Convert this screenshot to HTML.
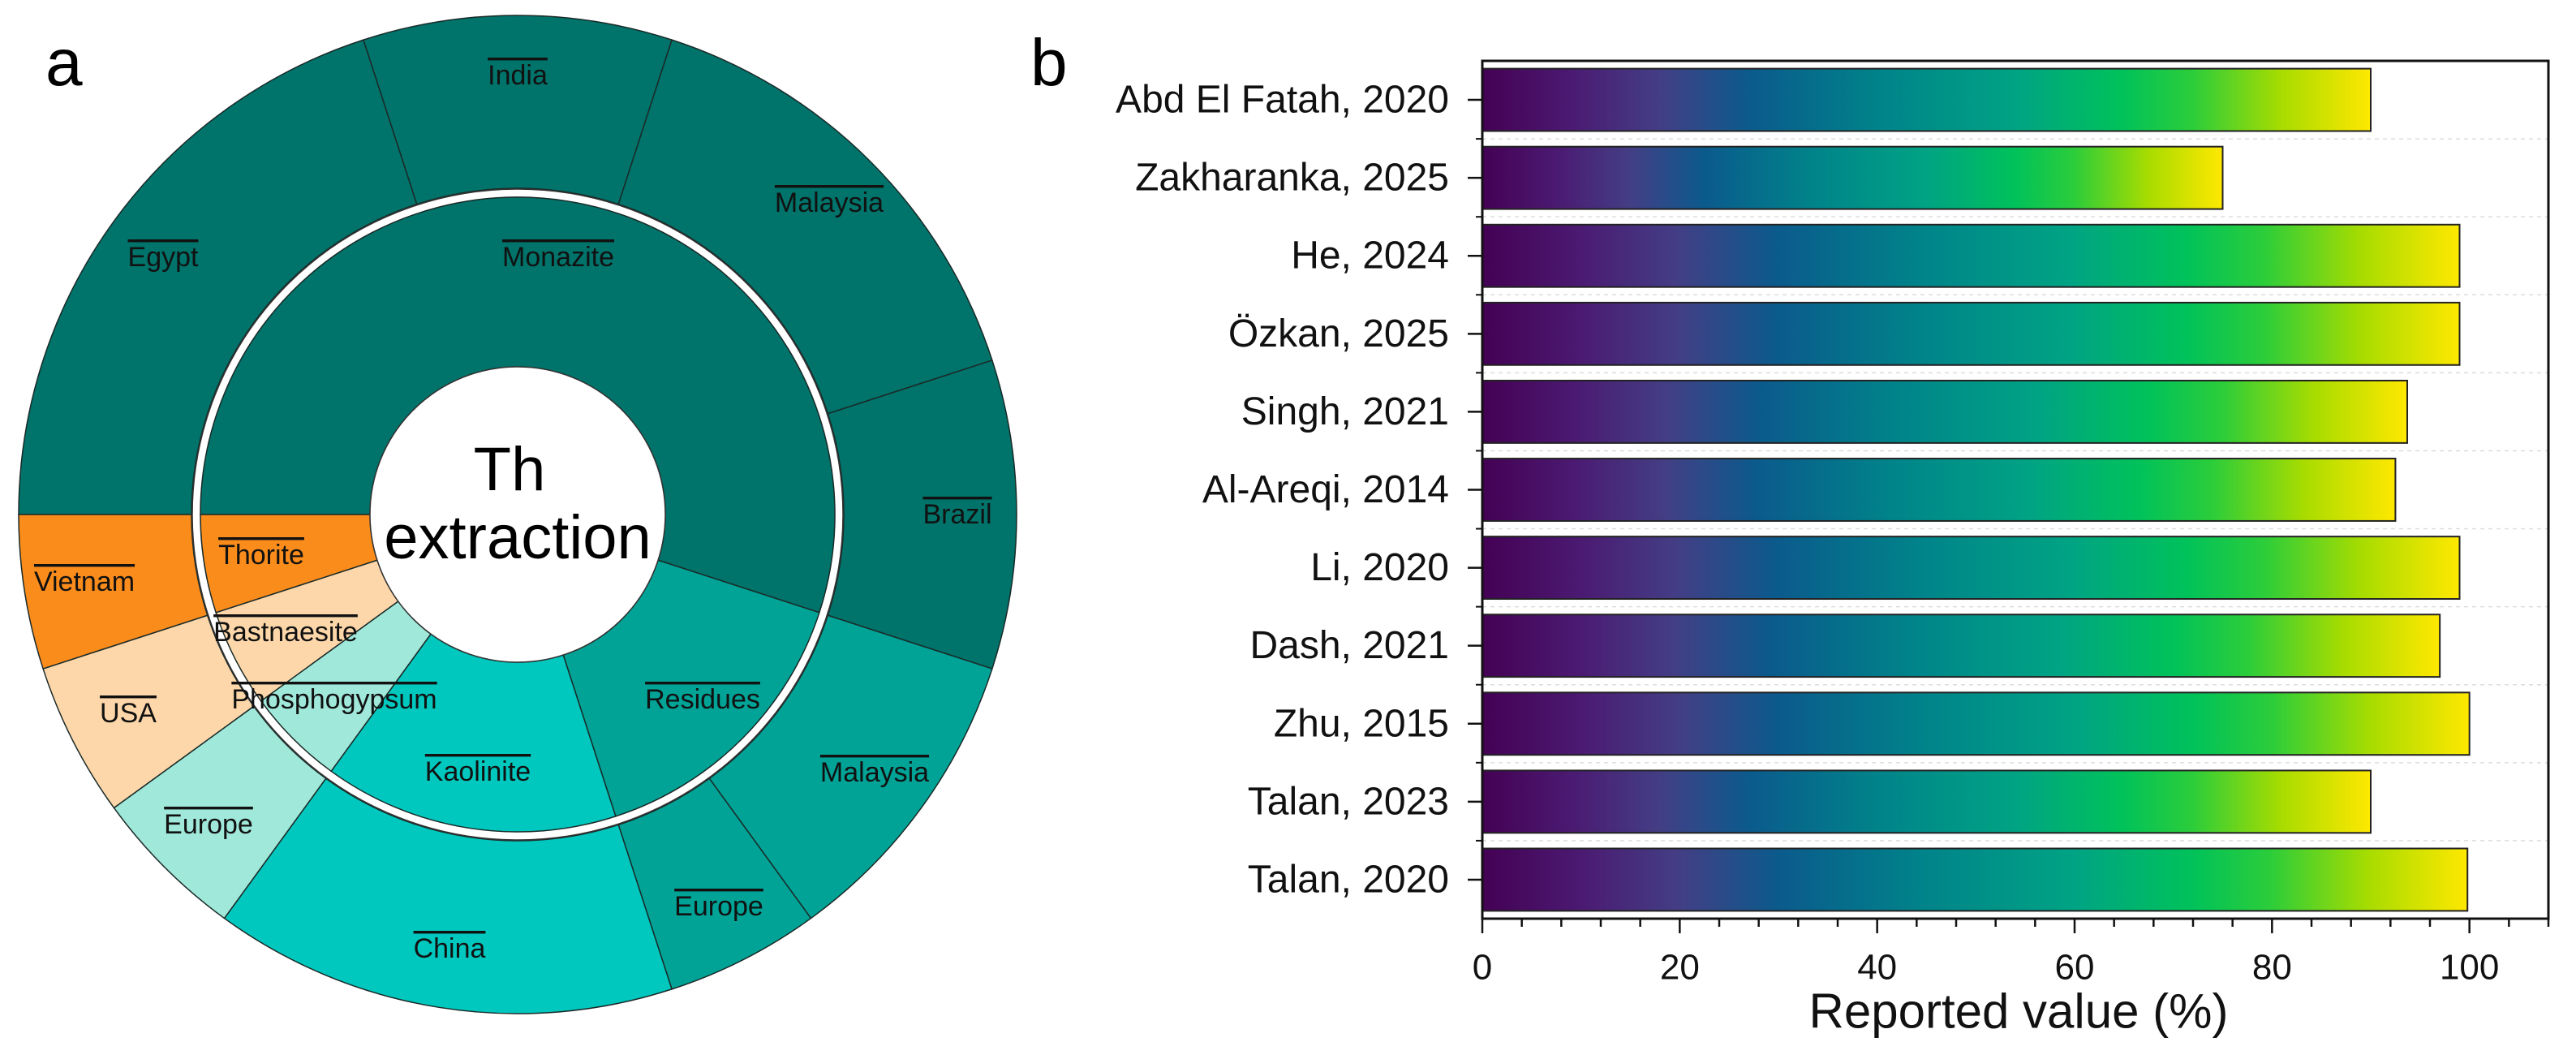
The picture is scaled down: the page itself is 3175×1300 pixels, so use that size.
<!DOCTYPE html>
<html><head><meta charset="utf-8"><style>
html,body{margin:0;padding:0;background:#fff;}
svg{display:block;font-family:"Liberation Sans",Arial,sans-serif;}
.pl{font-size:34px;text-anchor:middle;dominant-baseline:central;text-decoration:overline;fill:#111;}
</style></head><body>
<svg id="s" width="3175" height="1300" viewBox="0 0 3175 1300" xmlns="http://www.w3.org/2000/svg">
<defs>
<linearGradient id="vir" x1="0" x2="1" y1="0" y2="0">
<stop offset="0" stop-color="#440154"/><stop offset="0.1" stop-color="#4b1a72"/><stop offset="0.2" stop-color="#433e85"/>
<stop offset="0.3" stop-color="#0b5a8c"/><stop offset="0.45" stop-color="#00848a"/><stop offset="0.6" stop-color="#00a384"/>
<stop offset="0.72" stop-color="#00c25a"/><stop offset="0.8" stop-color="#2ccd3a"/><stop offset="0.9" stop-color="#a8dc00"/>
<stop offset="1" stop-color="#ffe800"/>
</linearGradient>
</defs>
<g id="pie"></g>
<text x="56" y="105" font-size="82">a</text>
<g id="bar"></g>
<text x="1270" y="105" font-size="82">b</text>
</svg>
<script>
// ---- Sunburst data ----
const innerLabels = ["Monazite","Residues","Kaolinite","Phosphogypsum","Bastnaesite","Thorite"];
const innerSpans = [198,54,54,18,18,18];
const innerColors = ["#00736A","#00A396","#00C8BE","#A0E8DA","#FDD7A9","#FA8C1C"];
const outerLabels = ["Egypt","India","Malaysia","Brazil","Malaysia","Europe","China","Europe","USA","Vietnam"];
const outerSpans = [72,36,54,36,36,18,54,18,18,18];
const outerParent = [0,0,0,0,1,1,2,3,4,5];
const innerLabelPos = [[688,317],[866,862],[589,951],[412,862],[352,779],[322,684]];
const outerLabelPos = [[201,317],[638,93],[1022,250],[1180,634],[1078,952],[886,1117],[554,1169],[257,1016],[158,879],[104,717]];

// ---- Bar data ----
const categories = ["Abd El Fatah, 2020","Zakharanka, 2025","He, 2024","Özkan, 2025","Singh, 2021","Al-Areqi, 2014","Li, 2020","Dash, 2021","Zhu, 2015","Talan, 2023","Talan, 2020"];
const values = [90,75,99,99,93.7,92.5,99,97,100,90,99.8];
const xTicks = [0,20,40,60,80,100];

const NS="http://www.w3.org/2000/svg";
function mk(tag,attrs,parent){const e=document.createElementNS(NS,tag);for(const k in attrs)e.setAttribute(k,attrs[k]);parent.appendChild(e);return e;}

// sunburst
const pie=document.getElementById('pie');
const cx=638, cy=634;
function pt(r,a){const t=a*Math.PI/180;return [cx+r*Math.cos(t), cy-r*Math.sin(t)];}
function sector(r0,r1,a0,a1){
  const p1=pt(r1,a0),p2=pt(r1,a1),p3=pt(r0,a1),p4=pt(r0,a0);
  const lg=(a0-a1)>180?1:0;
  return `M${p1[0]},${p1[1]} A${r1},${r1} 0 ${lg} 1 ${p2[0]},${p2[1]} L${p3[0]},${p3[1]} A${r0},${r0} 0 ${lg} 0 ${p4[0]},${p4[1]} Z`;
}
let a=180;
outerSpans.forEach((s,i)=>{
  const p=mk('path',{d:sector(402,615,a,a-s),fill:innerColors[outerParent[i]],stroke:'#1a2a28','stroke-width':1.5},pie);
  
  
  a-=s;
});
mk('circle',{cx:cx,cy:cy,r:401,fill:'#fff',stroke:'#333','stroke-width':1.5},pie);
a=180;
innerSpans.forEach((s,i)=>{
  const p=mk('path',{d:sector(182,391,a,a-s),fill:innerColors[i],stroke:'#1a2a28','stroke-width':1.5},pie);
  
  
  a-=s;
});
mk('circle',{cx:cx,cy:cy,r:182,fill:'#fff',stroke:'#333','stroke-width':1.5},pie);
outerLabels.forEach((l,i)=>{const t=mk('text',{x:outerLabelPos[i][0],y:outerLabelPos[i][1],class:'pl'},pie);t.textContent=l;
  
  });
innerLabels.forEach((l,i)=>{const t=mk('text',{x:innerLabelPos[i][0],y:innerLabelPos[i][1],class:'pl'},pie);t.textContent=l;
  
  });
const c1=mk('text',{x:628,y:604,'font-size':76,'text-anchor':'middle'},pie);c1.textContent='Th';


const c2=mk('text',{x:638,y:688,'font-size':76,'text-anchor':'middle'},pie);c2.textContent='extraction';



// bar chart
const bar=document.getElementById('bar');
const L=1827,R=3141,T=75,B=1132,xMax=108;
const xs=v=>L+(R-L)*v/xMax;
const band=(B-T)/categories.length;
const yc=i=>T+band*(i+0.5);
for(let i=1;i<categories.length;i++){
  const g=mk('line',{x1:L,x2:R,y1:T+band*i,y2:T+band*i,stroke:'#ddd','stroke-width':1.5,'stroke-dasharray':'5,5'},bar);
  
  
  const m=mk('line',{x1:L-8,x2:L,y1:T+band*i,y2:T+band*i,stroke:'#111','stroke-width':2},bar);
  
  
}
categories.forEach((c,i)=>{
  const h=band*0.8;
  const r=mk('rect',{x:xs(0),y:yc(i)-h/2,width:xs(values[i])-xs(0),height:h,fill:'url(#vir)',stroke:'#222','stroke-width':2},bar);
  
  
  const tk=mk('line',{x1:L-18,x2:L,y1:yc(i),y2:yc(i),stroke:'#111','stroke-width':2.5},bar);
  
  
  const t=mk('text',{x:1786,y:yc(i),'font-size':48,'text-anchor':'end','dominant-baseline':'central',fill:'#111'},bar);
  t.textContent=c;
  
  
});
for(let v=0;v<=xMax;v+=4){
  const major=v%20===0;
  const l=mk('line',{x1:xs(v),x2:xs(v),y1:B,y2:B+(major?18:10),stroke:'#111','stroke-width':2.5},bar);
  
  
}
xTicks.forEach(v=>{
  const t=mk('text',{x:xs(v),y:1192,'font-size':44,'text-anchor':'middle','dominant-baseline':'central',fill:'#111'},bar);
  t.textContent=v;
  
  
});
const fr=mk('rect',{x:L,y:T,width:R-L,height:B-T,fill:'none',stroke:'#111','stroke-width':3},bar);


const xt=mk('text',{x:2488,y:1246,'font-size':60,'text-anchor':'middle','dominant-baseline':'central',fill:'#111'},bar);
xt.textContent='Reported value (%)';


</script>
</body></html>
